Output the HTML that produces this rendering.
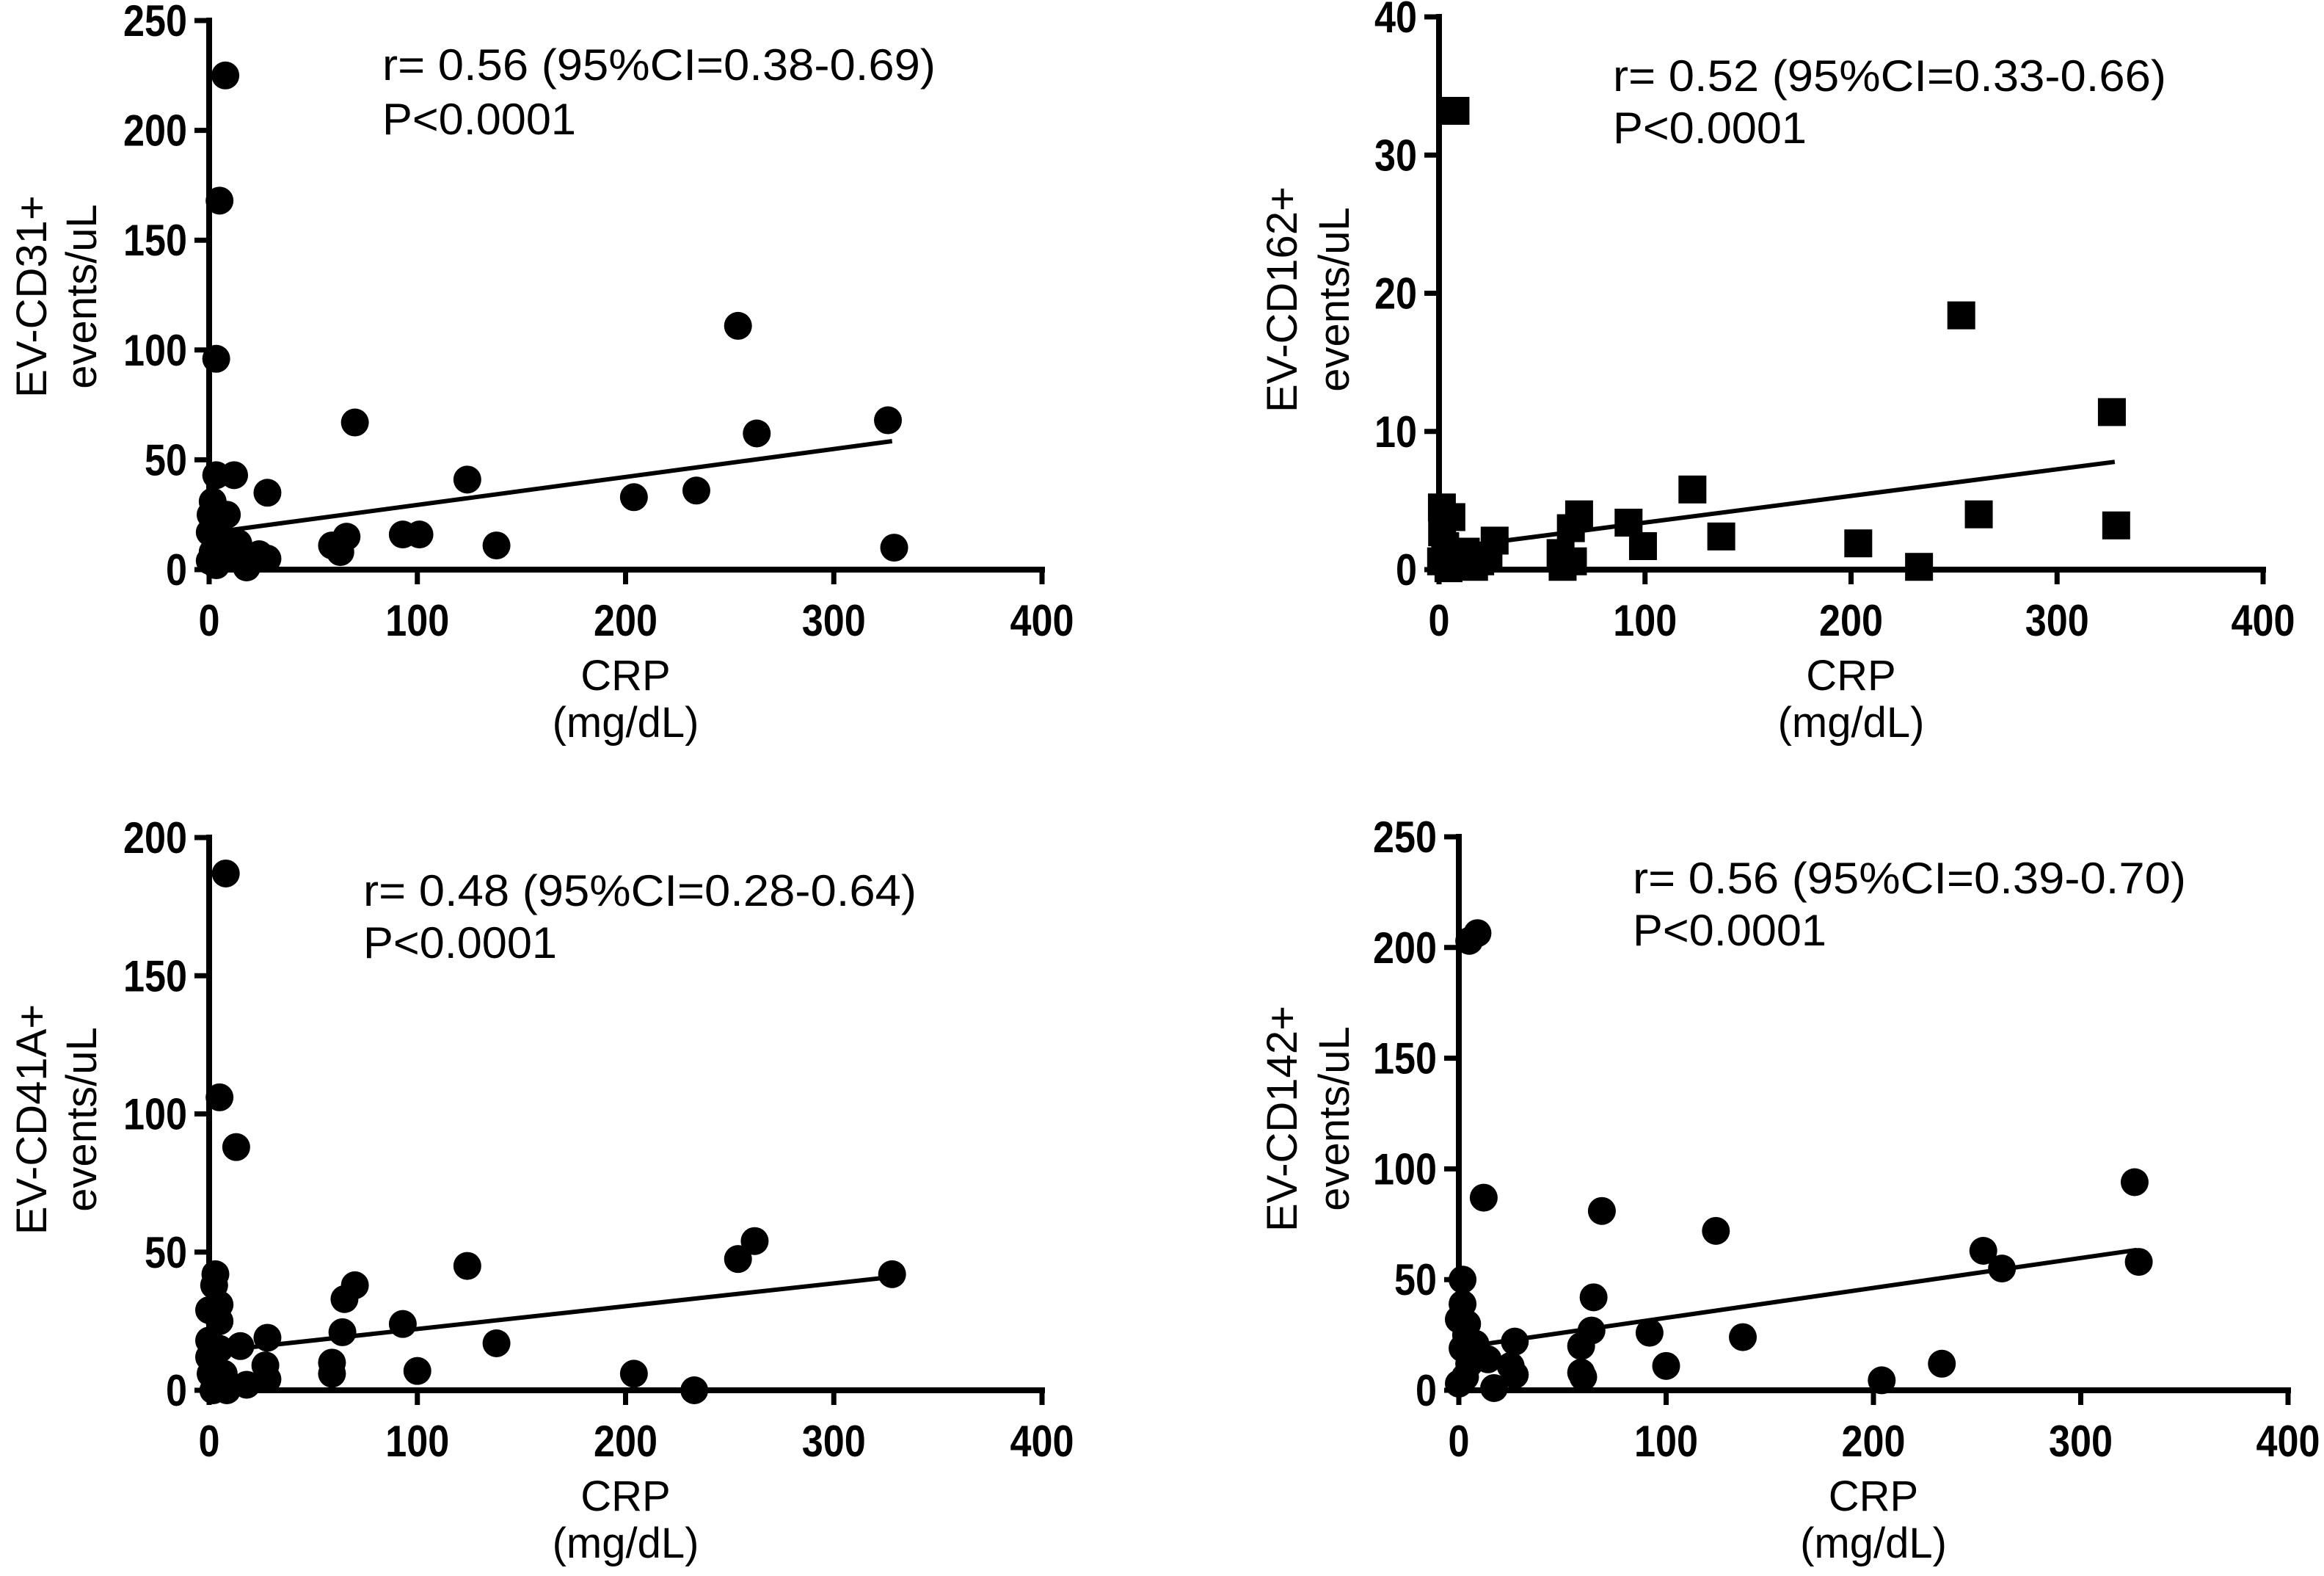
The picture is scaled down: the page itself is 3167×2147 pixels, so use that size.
<!DOCTYPE html>
<html><head><meta charset="utf-8"><style>
html,body{margin:0;padding:0;background:#fff;}
svg{display:block;}
text{font-family:"Liberation Sans",Arial,sans-serif;fill:#000;}
</style></head>
<body>
<svg id="fig" xmlns="http://www.w3.org/2000/svg" width="3167" height="2147" viewBox="0 0 3167 2147"></svg>
<script>
// Panel A: EV-CD31+
const crpA = [7.8,5,3.4,254,70,263,326,329,124,204,234,28,12,3.4,93,101,138,59,63,66,14,18,24,28,8.5,1.7,0.7,0.3,1.7,3.4,5,2.7,0.3,7];
const cd31 = [225,168,96,111,67,62,68,10,41,33,36,35,43,43,16,16,11,11,8,15,12,1,7,5,25,31,25,17,8,2,15,20,4,5];
const fitA = [[8.5,17.8],[328,58.5]];
// Panel B: EV-CD162+
const crpB = [8,253.5,326.6,328.7,262,203.5,233,123,137,92,99,68,64,59,60,65,27,24,17,13,6,1.4,1.5,3,1,4.6,20];
const cd162 = [33.2,18.4,11.4,3.2,4.0,1.9,0.2,5.8,2.4,3.4,1.7,4.0,3.0,1.2,0.2,0.6,2.1,1.0,0.2,1.3,3.8,4.5,2.7,1.7,0.6,0.1,0.6];
const fitB = [[1,1.5],[328,7.8]];
// Panel C: EV-CD41A+
const crpC = [8,5,13,262,254,124,328,70,65,64,93,138,100,204,233,59,59,28,27,28,15,18,3,2.4,5,0,5,0,0,0.7,7,8.5,2,5];
const cd41a = [187,106,88,54,47.5,45,42,38,33,21,24,17,7,6,0,10,6,19,9,4,16,2,42,38,31,29,25,18,12,6,6,0,0,15];
const fitC = [[7,14.5],[328,41]];
// Panel D: EV-CD142+
const crpD = [5,9,12,69,124,326,253,262,328,65,64,59,59,60,92,100,137,204,233,27,25,27,17,14,1.8,1.8,0,3.5,1.8,5,3,8,4,0];
const cd142 = [203,206.5,87,81,72,94,63,55,58,42,27,20,8,6,26,11,24,4.5,12,22,11,7,1,14,50,39,32,25,19,12,6,21,30,3];
const fitD = [[3.5,19.7],[327,63.4]];

const xTicks = [0,100,200,300,400];
const yTicksA = [0,50,100,150,200,250];
const yTicksB = [0,10,20,30,40];
const yTicksC = [0,50,100,150,200];
const yTicksD = [0,50,100,150,200,250];

const NS = "http://www.w3.org/2000/svg";
const svg = document.getElementById('fig');
function el(tag, attrs, parent){
  const e = document.createElementNS(NS, tag);
  for (const k in attrs) e.setAttribute(k, attrs[k]);
  (parent||svg).appendChild(e);
  return e;
}

const panels = [
  {id:'cd31', x0:285, x1:1420, y0:776, y1:28, ymax:250, yt:yTicksA, xs:crpA, ys:cd31, fit:fitA, sq:false,
   t1:'EV-CD31+', tx1:63, tx2:131, tyc:404, ax:521, ab1:109, ab2:183, r:'r= 0.56 (95%CI=0.38-0.69)'},
  {id:'cd162', x0:1961, x1:3084, y0:776, y1:23, ymax:40, yt:yTicksB, xs:crpB, ys:cd162, fit:fitB, sq:true,
   t1:'EV-CD162+', tx1:1767, tx2:1838, tyc:408, ax:2198, ab1:124, ab2:195, r:'r= 0.52 (95%CI=0.33-0.66)'},
  {id:'cd41a', x0:285, x1:1420, y0:1894, y1:1141, ymax:200, yt:yTicksC, xs:crpC, ys:cd41a, fit:fitC, sq:false,
   t1:'EV-CD41A+', tx1:63, tx2:131, tyc:1525, ax:495, ab1:1234, ab2:1305, r:'r= 0.48 (95%CI=0.28-0.64)'},
  {id:'cd142', x0:1988, x1:3118, y0:1894, y1:1140, ymax:250, yt:yTicksD, xs:crpD, ys:cd142, fit:fitD, sq:false,
   t1:'EV-CD142+', tx1:1767, tx2:1838, tyc:1524, ax:2225, ab1:1217, ab2:1288, r:'r= 0.56 (95%CI=0.39-0.70)'}
];

panels.forEach(p => {
  const g = el('g', {});
  
  
  const X = v => p.x0 + (p.x1 - p.x0) * v / 400;
  const Y = v => p.y0 - (p.y0 - p.y1) * v / p.ymax;
  const xa = el('line', {x1:p.x0-4, y1:p.y0, x2:p.x1+4, y2:p.y0, stroke:'#000','stroke-width':8}, g);
  
  
  const ya = el('line', {x1:p.x0, y1:p.y0+4, x2:p.x0, y2:p.y1-4, stroke:'#000','stroke-width':8}, g);
  
  
  xTicks.forEach(t => {
    el('line', {x1:X(t), y1:p.y0, x2:X(t), y2:p.y0+20, stroke:'#000','stroke-width':7}, g);
    const s = String(t);
    const tl = el('text', {x:X(t), y:p.y0+90, 'text-anchor':'middle','font-size':60,'font-weight':'bold', textLength:s.length*29, lengthAdjust:'spacingAndGlyphs'}, g);
    tl.textContent = s;
    
    
  });
  p.yt.forEach(t => {
    el('line', {x1:p.x0-20, y1:Y(t), x2:p.x0, y2:Y(t), stroke:'#000','stroke-width':7}, g);
    const s = String(t);
    const tl = el('text', {x:p.x0-30, y:Y(t)+21, 'text-anchor':'end','font-size':60,'font-weight':'bold', textLength:s.length*29, lengthAdjust:'spacingAndGlyphs'}, g);
    tl.textContent = s;
    
    
  });
  const fl = el('line', {x1:X(p.fit[0][0]), y1:Y(p.fit[0][1]), x2:X(p.fit[1][0]), y2:Y(p.fit[1][1]), stroke:'#000','stroke-width':6}, g);
  
  
  p.xs.forEach((xv, i) => {
    let m;
    if (p.sq) m = el('rect', {x:X(xv)-19, y:Y(p.ys[i])-19, width:38, height:38, fill:'#000'}, g);
    else m = el('circle', {cx:X(xv), cy:Y(p.ys[i]), r:19, fill:'#000'}, g);
    
    
  });
  const a1 = el('text', {x:p.ax, y:p.ab1, 'font-size':60, textLength:754, lengthAdjust:'spacingAndGlyphs'}, g);
  a1.textContent = p.r;
  
  
  const a2 = el('text', {x:p.ax, y:p.ab2, 'font-size':60, textLength:264, lengthAdjust:'spacingAndGlyphs'}, g);
  a2.textContent = 'P<0.0001';
  
  
  const xc = (p.x0 + p.x1) / 2;
  const xt1 = el('text', {x:xc, y:p.y0+164, 'text-anchor':'middle','font-size':58}, g);
  xt1.textContent = 'CRP';
  
  
  const xt2 = el('text', {x:xc, y:p.y0+228, 'text-anchor':'middle','font-size':58}, g);
  xt2.textContent = '(mg/dL)';
  
  
  const yt1 = el('text', {x:0, y:0, 'text-anchor':'middle','font-size':58, transform:'translate('+p.tx1+','+p.tyc+') rotate(-90)'}, g);
  yt1.textContent = p.t1;
  
  
  const yt2 = el('text', {x:0, y:0, 'text-anchor':'middle','font-size':58, transform:'translate('+p.tx2+','+p.tyc+') rotate(-90)'}, g);
  yt2.textContent = 'events/uL';
  
  
});
</script>
</body></html>
